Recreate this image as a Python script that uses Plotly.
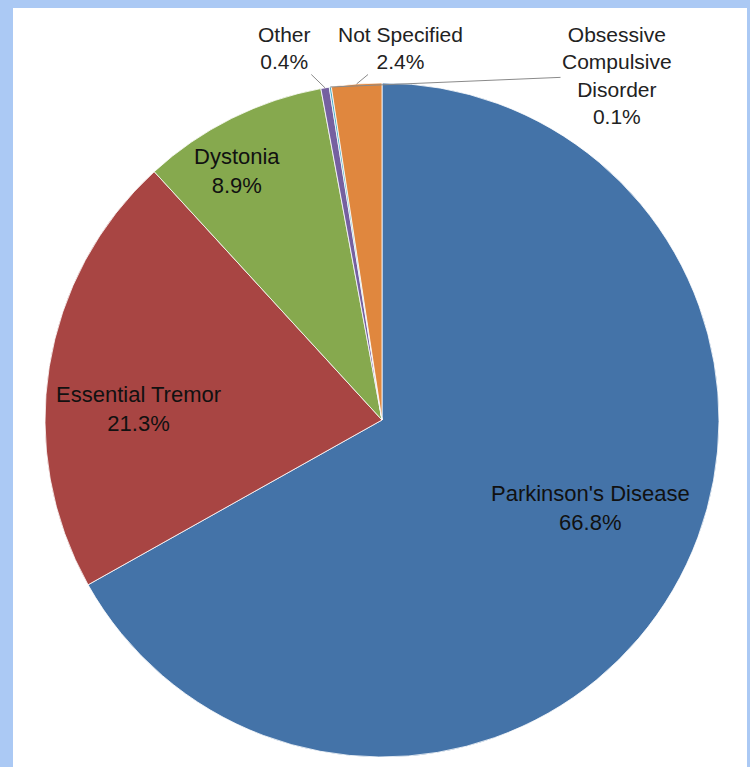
import math
import plotly.graph_objects as go

labels = ["Parkinson's Disease", "Essential Tremor", "Dystonia", "Other",
          "Obsessive<br>Compulsive<br>Disorder", "Not Specified"]
values = [66.8, 21.3, 8.9, 0.4, 0.1, 2.4]
colors = ["#4473A8", "#A84543", "#86A94E", "#7560A0", "#4BACC6", "#E0873E"]
inside = [True, True, True, False, False, False]

W, H = 750, 767
CX, CY, R = 382, 420, 337  # pie centre / radius in pixels

fig = go.Figure(go.Pie(
    labels=labels, values=values, sort=False, direction="clockwise", rotation=0,
    textinfo="none",
    marker=dict(colors=colors, line=dict(color="#ffffff", width=0.8)),
    domain=dict(x=[(CX - R) / W, (CX + R) / W], y=[(H - CY - R) / H, (H - CY + R) / H]),
    hoverinfo="label+percent", showlegend=False,
))

# label text positions (px)
label_pos = {0: (590, 508), 1: (138, 409), 2: (237, 171),
             3: (284, 48), 5: (400, 48), 4: (617, 75)}
font = dict(family="Liberation Sans", size=22, color="#111111")

total = sum(values)
cum = 0.0
for i, v in enumerate(values):
    mid = (cum + v / 2) / total
    cum += v
    tx, ty = label_pos[i]
    txt = f"{labels[i]}<br>{values[i]:.1f}%"
    if inside[i]:
        fig.add_annotation(x=tx / W, y=1 - ty / H, xref="paper", yref="paper",
                           xanchor="center", yanchor="middle",
                           text=txt, showarrow=False, font=font, align="center")
        continue
    ang = 2 * math.pi * mid
    px = CX + R * math.sin(ang)
    py = CY - R * math.cos(ang)
    fig.add_annotation(
        x=px / W, y=1 - py / H, xref="paper", yref="paper",
        text=txt, showarrow=True,
        ax=tx - px, ay=ty - py, arrowhead=0, arrowwidth=1, arrowcolor="#8a8a8a",
        font=dict(family="Liberation Sans", size=21, color="#222222"),
        align="center",
    )

fig.add_shape(type="rect", xref="paper", yref="paper",
              x0=13 / W, x1=747 / W, y0=0, y1=1 - 8 / H,
              fillcolor="#ffffff", line=dict(width=0), layer="below")

fig.update_layout(width=W, height=H, margin=dict(l=0, r=0, t=0, b=0),
                  paper_bgcolor="#ABC9F4", plot_bgcolor="#ffffff")
fig.write_html("out.html", config={"displayModeBar": False},
               post_script="document.body.style.margin='0';document.body.style.overflow='hidden';")
